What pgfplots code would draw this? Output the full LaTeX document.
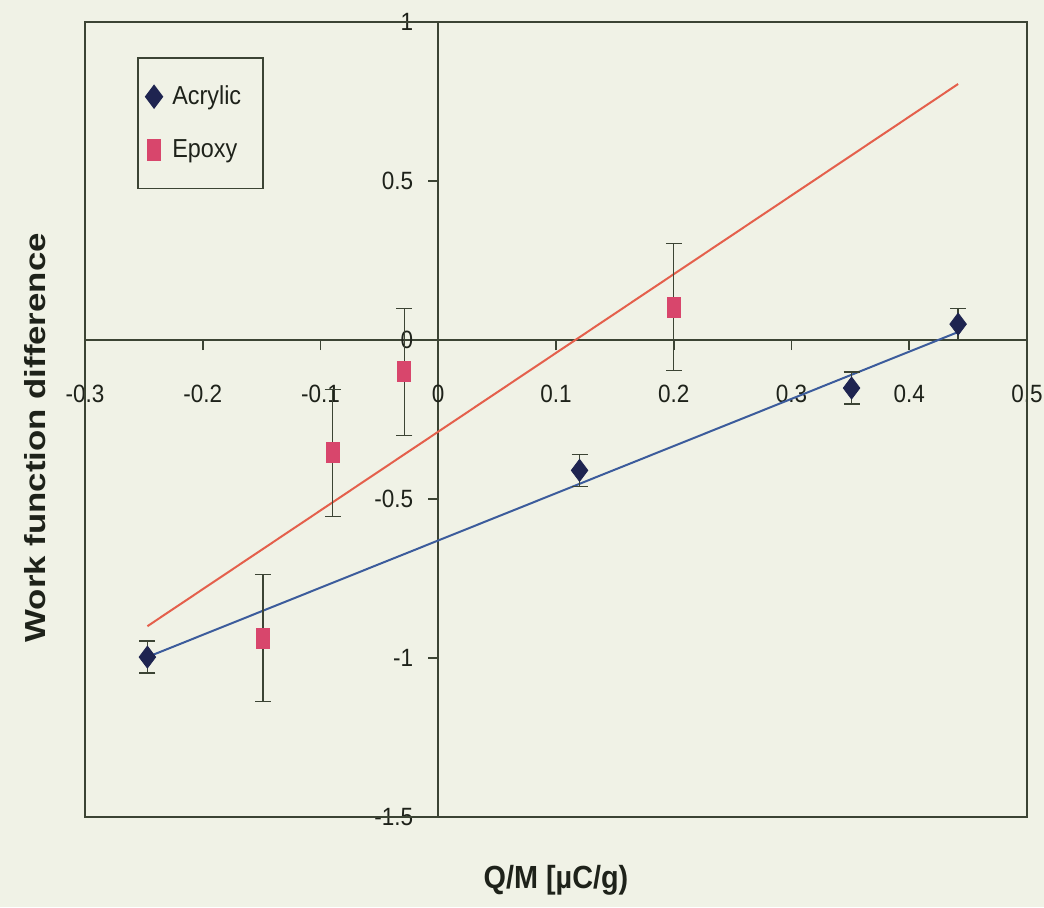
\documentclass[border=0pt]{standalone}
\usepackage{pgfplots}
\pgfplotsset{compat=1.18}
\usepackage{fontspec}
\setmainfont{Liberation Sans}[FakeStretch=0.9]
\newfontfamily\ylabfont{Liberation Sans}[FakeStretch=1.2]
\definecolor{bg}{HTML}{F0F2E6}
\definecolor{axc}{HTML}{3C4434}
\definecolor{navy}{HTML}{1E2450}
\definecolor{pinkc}{HTML}{D8466C}
\definecolor{redl}{HTML}{E4604C}
\definecolor{bluel}{HTML}{3C5C9C}
\definecolor{txt}{HTML}{1E221A}
\begin{document}
\begin{tikzpicture}[x=1pt,y=1pt]
\path[use as bounding box, fill=bg] (-42.5,-45) rectangle (479.5,408.5);
\begin{axis}[
  at={(0,0)}, anchor=south west, scale only axis,
  width=471pt, height=397.5pt,
  xmin=-0.3, xmax=0.5, ymin=-1.5, ymax=1,
  axis lines=left,
  axis x line shift=-238.5pt,
  axis y line shift=-176.625pt,
  axis line style={axc, line width=0.8pt, -},
  xtick={-0.3,-0.2,-0.1,0,0.1,0.2,0.3,0.4,0.5},
  ytick={-1.5,-1,-0.5,0,0.5,1},
  tick style={axc, line width=0.8pt},
  tick align=outside,
  major tick length=5pt,
  /pgf/number format/assume math mode=true,
  xticklabel style={font=\fontsize{12.5}{15}\selectfont, text=txt, yshift=-14pt},
  yticklabel style={font=\fontsize{12.5}{15}\selectfont, text=txt, xshift=-4pt},
  every axis x label/.style={at={(axis description cs:0.5,0)}, anchor=center, yshift=-31.5pt, font=\bfseries\fontsize{16}{19}\selectfont, text=txt},
  every axis y label/.style={at={(axis description cs:-0.0531,0.477)}, rotate=90, anchor=center, font=\ylabfont\bfseries\fontsize{14.5}{17}\selectfont, text=txt},
  xlabel={Q/M [µC/g)},
  ylabel={Work function difference},
  legend cell align=left,
  legend style={at={(0.0552,0.956)}, anchor=north west, draw=axc, line width=0.8pt, fill=none,
    font=\fontsize{13}{15}\selectfont, text=txt, row sep=12pt, inner xsep=4pt, inner ysep=12pt,
    /tikz/every odd column/.append style={column sep=3pt}},
  clip=false,
]
\draw[axc, line width=0.8pt] (rel axis cs:0,0) rectangle (rel axis cs:1,1);
\addplot[redl, line width=1pt, forget plot] coordinates {(-0.247,-0.90) (0.4415,0.805)};
\addplot[bluel, line width=1pt, forget plot] coordinates {(-0.247,-0.997) (0.4415,0.025)};
\addplot[only marks, mark=diamond*, mark size=5.5pt, mark options={fill=navy, draw=navy},
  error bars/.cd, y dir=both, y explicit,
  error bar style={axc, line width=0.7pt},
  error mark options={rotate=90, axc, mark size=4pt, line width=0.7pt}]
  coordinates {
  (-0.247,-0.997) +- (0,0.05)
  (0.120,-0.41) +- (0,0.05)
  (0.351,-0.151) +- (0,0.05)
  (0.4415,0.05) +- (0,0.05)
  };
\addlegendentry{Acrylic\rule{5pt}{0pt}}
\addplot[only marks, mark=square*, mark size=5pt, mark options={fill=pinkc, draw=pinkc, xscale=0.65},
  error bars/.cd, y dir=both, y explicit,
  error bar style={axc, line width=0.7pt},
  error mark options={rotate=90, axc, mark size=4pt, line width=0.7pt}]
  coordinates {
  (-0.149,-0.937) +- (0,0.2)
  (-0.0898,-0.355) +- (0,0.2)
  (-0.0288,-0.10) +- (0,0.2)
  (0.2,0.104) +- (0,0.2)
  };
\addlegendentry{Epoxy}
\end{axis}
\end{tikzpicture}
\end{document}
